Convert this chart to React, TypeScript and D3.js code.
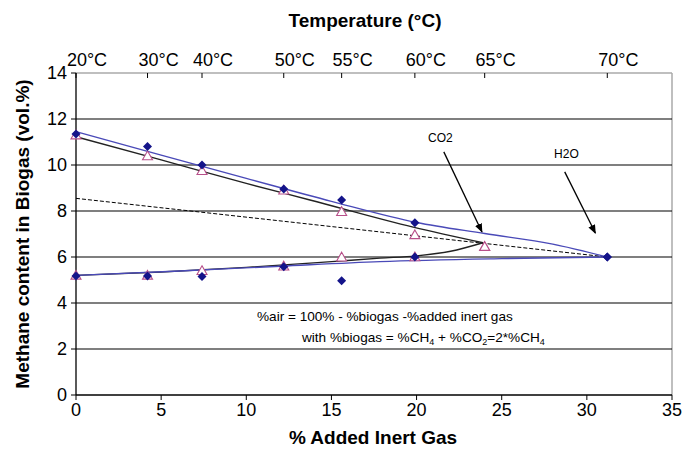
import React from "react";
import * as d3 from "d3";

// Data
const inertGas = [0, 4.2, 7.4, 12.2, 15.6, 19.9, 24.0, 31.2];
const tempLabels = ["20°C", "30°C", "40°C", "50°C", "55°C", "60°C", "65°C", "70°C"];

const h2oX = [0, 4.2, 7.4, 12.2, 15.6, 19.9, 31.2];
const h2oUpper = [11.35, 10.8, 10.0, 8.96, 8.48, 7.49, 6.0];
const h2oLower = [5.17, 5.17, 5.15, 5.58, 4.97, 6.0, 6.0];

const co2X = [0, 4.2, 7.4, 12.2, 15.6, 19.9, 24.0];
const co2Upper = [11.3, 10.39, 9.75, 8.9, 7.97, 6.96, 6.45];
const co2Lower = [5.2, 5.2, 5.4, 5.6, 5.99, 6.0, 6.45];

const blueUpperX = [0, 5, 10, 15, 20, 24, 28, 31.2];
const blueUpperY = [11.45, 10.43, 9.42, 8.42, 7.5, 7.02, 6.56, 6.0];
const blueLowerX = [0, 6.1, 12, 17.85, 25, 31.2];
const blueLowerY = [5.2, 5.39, 5.6, 5.8, 5.93, 6.0];

const blackUpperX = [0, 5, 10, 13.74, 19.8, 23.9];
const blackUpperY = [11.23, 10.22, 9.2, 8.48, 7.3, 6.62];
const blackLowerX = [0, 5, 10, 15, 17.85, 20, 22, 23.9];
const blackLowerY = [5.2, 5.35, 5.55, 5.8, 5.95, 6.05, 6.25, 6.62];

const dashedX = [0, 31.2];
const dashedY = [8.55, 6.0];

const xTicks = [0, 5, 10, 15, 20, 25, 30, 35];
const yTicks = [0, 2, 4, 6, 8, 10, 12, 14];

const W = 694, H = 451;
const x = d3.scaleLinear().domain([0, 35]).range([76, 672]);
const y = d3.scaleLinear().domain([0, 14]).range([395, 73]);

const FONT = "Liberation Sans, Arial, sans-serif";

function path(xs: number[], ys: number[], curve: d3.CurveFactory = d3.curveMonotoneX) {
  const pts = xs.map((v, i) => [v, ys[i]] as [number, number]);
  return d3.line<[number, number]>().x(d => x(d[0])).y(d => y(d[1])).curve(curve)(pts) || "";
}

function diamond(cx: number, cy: number, r = 4.5) {
  return `M${cx},${cy - r}L${cx + r},${cy}L${cx},${cy + r}L${cx - r},${cy}Z`;
}
function triangle(cx: number, cy: number, r = 5) {
  return `M${cx},${cy - r}L${cx + r},${cy + r * 0.75}L${cx - r},${cy + r * 0.75}Z`;
}

export default function App() {
  const blueLine = "#4a4ab8";
  const navy = "#14148a";
  const pink = "#b8508a";
  return (
    <svg width={W} height={H} style={{ position: "absolute", left: 0, top: 0, background: "#fff" }} fontFamily={FONT}>
      <defs>
        <marker id="arr" viewBox="0 0 10 10" refX="9" refY="5" markerWidth="7" markerHeight="7" orient="auto">
          <path d="M0,1L10,5L0,9Z" fill="#000" />
        </marker>
      </defs>
      {/* plot frame top/right */}
      <line x1={x(0)} x2={x(35)} y1={y(14)} y2={y(14)} stroke="#aaa" strokeWidth={1.5} />
      <line x1={x(35)} x2={x(35)} y1={y(14)} y2={y(0)} stroke="#aaa" strokeWidth={1.5} />
      {/* gridlines */}
      {yTicks.filter(t => t > 0 && t < 14).map(t => (
        <line key={t} x1={x(0)} x2={x(35)} y1={y(t)} y2={y(t)} stroke="#000" strokeWidth={1.2} />
      ))}
      {/* axes */}
      <line x1={x(0)} x2={x(0)} y1={y(14)} y2={y(0)} stroke="#000" strokeWidth={1.3} />
      <line x1={x(0)} x2={x(35)} y1={y(0)} y2={y(0)} stroke="#000" strokeWidth={1.3} />
      {yTicks.map(t => (
        <g key={t}>
          <line x1={x(0) - 5} x2={x(0)} y1={y(t)} y2={y(t)} stroke="#000" />
          <text x={x(0) - 9} y={y(t)} dy="0.35em" textAnchor="end" fontSize={18}>{t}</text>
        </g>
      ))}
      {xTicks.map(t => (
        <g key={t}>
          <line x1={x(t)} x2={x(t)} y1={y(0)} y2={y(0) + 5} stroke="#000" />
          <text x={x(t)} y={y(0) + 21} textAnchor="middle" fontSize={18}>{t}</text>
        </g>
      ))}
      {/* top axis */}
      {inertGas.map((v, i) => (
        <g key={i}>
          <line x1={x(v)} x2={x(v)} y1={y(14)} y2={y(14) + 5} stroke="#000" />
          <text x={x(v) + 11} y={y(14) - 7} textAnchor="middle" fontSize={18}>{tempLabels[i]}</text>
        </g>
      ))}
      <text x={365} y={27} textAnchor="middle" fontSize={19} fontWeight="bold">Temperature (°C)</text>
      <text x={373} y={444} textAnchor="middle" fontSize={19} fontWeight="bold">% Added Inert Gas</text>
      <text transform={`translate(29,${234}) rotate(-90)`} textAnchor="middle" fontSize={19} fontWeight="bold">Methane content in Biogas (vol.%)</text>

      {/* fitted lines */}
      <path d={path(dashedX, dashedY, d3.curveLinear)} fill="none" stroke="#000" strokeWidth={1} strokeDasharray="4,2" />
      <path d={path(blackUpperX, blackUpperY)} fill="none" stroke="#222" strokeWidth={1.4} />
      <path d={path(blackLowerX, blackLowerY)} fill="none" stroke="#222" strokeWidth={1.4} />
      <path d={path(blueUpperX, blueUpperY)} fill="none" stroke={blueLine} strokeWidth={1.4} />
      <path d={path(blueLowerX, blueLowerY)} fill="none" stroke={blueLine} strokeWidth={1.4} />

      {/* markers */}
      {co2X.map((v, i) => (
        <g key={"c" + i}>
          <path d={triangle(x(v), y(co2Upper[i]))} fill="#fff" stroke={pink} strokeWidth={1.1} />
          <path d={triangle(x(v), y(co2Lower[i]))} fill="#fff" stroke={pink} strokeWidth={1.1} />
        </g>
      ))}
      {h2oX.map((v, i) => (
        <g key={"h" + i}>
          <path d={diamond(x(v), y(h2oUpper[i]))} fill={navy} />
          <path d={diamond(x(v), y(h2oLower[i]))} fill={navy} />
        </g>
      ))}

      {/* annotations */}
      <text x={x(21.4)} y={y(11.17)} dy="0.35em" textAnchor="middle" fontSize={12}>CO2</text>
      <line x1={x(21.6)} y1={y(10.57)} x2={x(23.84)} y2={y(7.09)} stroke="#000" strokeWidth={1.3} markerEnd="url(#arr)" />
      <text x={x(28.8)} y={y(10.48)} dy="0.35em" textAnchor="middle" fontSize={12}>H2O</text>
      <line x1={x(28.7)} y1={y(9.7)} x2={x(30.5)} y2={y(7.04)} stroke="#000" strokeWidth={1.3} markerEnd="url(#arr)" />

      <text x={257} y={321} fontSize={13.6}>%air = 100% - %biogas -%added inert gas</text>
      <text x={302} y={342} fontSize={13.6}>
        with %biogas = %CH<tspan fontSize={9} dy={3}>4</tspan>
        <tspan dy={-3}> + %CO</tspan><tspan fontSize={9} dy={3}>2</tspan>
        <tspan dy={-3}>=2*%CH</tspan><tspan fontSize={9} dy={3}>4</tspan>
      </text>
    </svg>
  );
}
